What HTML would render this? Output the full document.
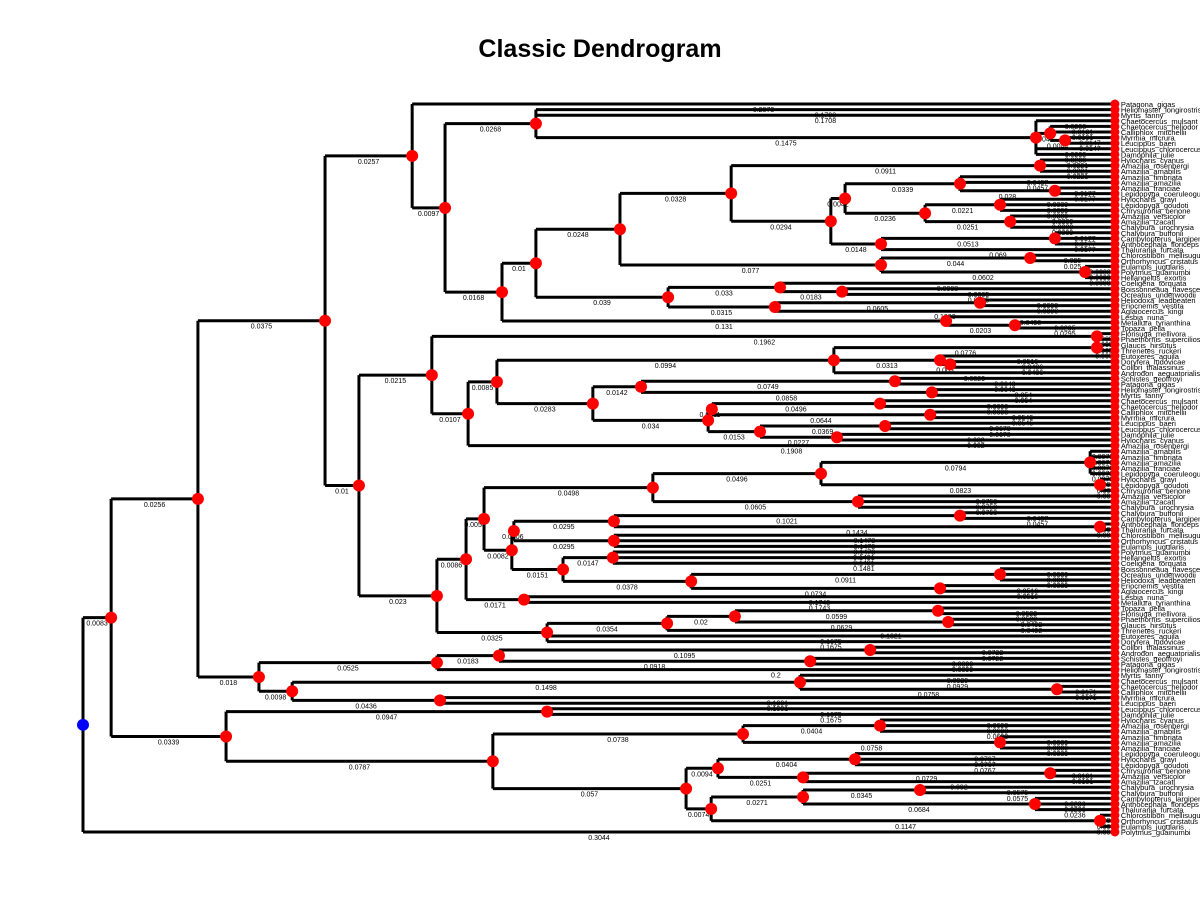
<!DOCTYPE html>
<html><head><meta charset="utf-8"><style>
html,body{margin:0;padding:0;background:#fff;}
svg{display:block;font-family:"Liberation Sans",sans-serif;}
</style></head><body>
<svg id="chart" width="1200" height="900" viewBox="0 0 1200 900">
<text x="600" y="57" text-anchor="middle" font-size="25" font-weight="bold">Classic Dendrogram</text>
<g id="plotArea"></g>
</svg>
<script>
const leafNames = ["Patagona_gigas","Heliomaster_longirostris","Myrtis_fanny","Chaetocercus_mulsant","Chaetocercus_heliodor","Calliphlox_mitchellii","Myrmia_micrura","Leucippus_baeri","Leucippus_chlorocercus","Damophila_julie","Hylocharis_cyanus","Amazilia_rosenbergi","Amazilia_amabilis","Amazilia_fimbriata","Amazilia_amazilia","Amazilia_franciae","Lepidopyga_coeruleogularis","Hylocharis_grayi","Lepidopyga_goudoti","Chrysuronia_oenone","Amazilia_versicolor","Amazilia_tzacatl","Chalybura_urochrysia","Chalybura_buffonii","Campylopterus_largipennis","Anthocephala_floriceps","Thalurania_furcata","Chlorostilbon_mellisugus","Orthorhyncus_cristatus","Eulampis_jugularis","Polytmus_guainumbi","Heliangelus_exortis","Coeligena_torquata","Boissonneaua_flavescens","Ocreatus_underwoodii","Heliodoxa_leadbeateri","Eriocnemis_vestita","Aglaiocercus_kingi","Lesbia_nuna","Metallura_tyrianthina","Topaza_pella","Florisuga_mellivora","Phaethornis_superciliosus","Glaucis_hirsutus","Threnetes_ruckeri","Eutoxeres_aquila","Doryfera_ludovicae","Colibri_thalassinus","Androdon_aequatorialis","Schistes_geoffroyi"];
const L = "leaf";
function N(depth, ...children){ return {depth: depth, children: children}; }
const leafDepth = 0.3044;

const subH = N(.1336, L, L, N(.2811, L, N(.2853, L, L, N(.2897, L, L)), L, L));
const subW = N(.2248, N(.2587, L, L, N(.2867, L, L)), N(.2484, N(.2705, L, L, L), N(.2735, L, L, L)));
const subU = N(.2206, subW, N(.2354, N(.2867, L, L, L), L));
const subT = N(.1912, N(.2823, L, L, L), subU);
const subR = N(.1584, subT, N(.2354, N(.2794, L, L), N(.2956, L, L, L)));
const subP = N(.1726, N(.2056, L, N(.2239, L, L)), N(.2041, N(.2646, L, L), L));
const subM = N(.1336, subR, subP);
const subK = N(.1236, subM, N(.2546, L, N(.2749, L, L)));
const subF = N(.0971, L, N(.1068, subH, subK));

const subAC = N(.2215, N(.2991, L, L), N(.2528, L, N(.2558, L, L)), L);
const subAE = N(.1646, N(.2395, L, L), N(.2504, L, L));
const subAF = N(.1844, N(.1855, N(.2351, L, L), N(.2499, L, L)), N(.1997, N(.2366, L, L), N(.2224, L, L)));
const subAB = N(.1221, subAC, N(.1504, subAE, subAF));
const subY = N(.1029, N(.2991, L, L), N(.1136, subAB, L));

const subAK = N(.1681, N(.2177, N(.2971, L, L, L, L, L), N(.3000, L, L, L)), N(.2286, L, L, L));
const subAN = N(.1271, N(.1566, N(.2587, L, L), N(.3000, L, L)), N(.1566, L, L, L));
const subAO = N(.1416, N(.1563, L, L, L), N(.1794, N(.2705, L, L, L), N(.2528, L, L)));
const subAG = N(.1130, N(.1183, subAK, N(.1265, subAN, subAO)), N(.1301, L, L));
const subAH = N(.1369, N(.1723, N(.1923, N(.2522, L, L), N(.2552, L, L)), L), L, L);
const subZ = N(.1044, subAG, subAH);
const subG = N(.0814, subY, subZ);
const subD = N(.0714, subF, subG);

const subE = N(.0519,
  N(.1044, N(.1227, N(.2322, L, L), N(.2145, L, L)), L),
  N(.0617, N(.2115, L, L, N(.2873, L, L)), N(.1053, L, L)));
const subB = N(.0339, subD, subE);

const subC = N(.0422,
  N(.1369, L, L),
  N(.1209,
    N(.1947, N(.2351, L, L, L), N(.2705, L, L, L)),
    N(.1779,
      N(.1873, N(.2277, L, L, L), N(.2124, N(.2853, L, L), L)),
      N(.1853, N(.2124, N(.2469, L, L), N(.2808, L, L, L)), N(.3000, L, L, L)))));

const tree = N(0, N(.0083, subB, subC), L);

const NS = "http://www.w3.org/2000/svg";
const plotG = document.getElementById('plotArea');
const X0 = 83, SCALE = 3390, YTOP = 104, YBOT = 832;
function xs(d){ return X0 + d * SCALE; }
function countLeaves(n){ if(n === L) return 1; let c = 0; for (const ch of n.children) c += countLeaves(ch); return c; }
const nLeaves = countLeaves(tree);
const stepY = (YBOT - YTOP) / (nLeaves - 1);
let leafIdx = 0;
const gLines = document.createElementNS(NS,'g'); plotG.appendChild(gLines);
const gLabels = document.createElementNS(NS,'g'); plotG.appendChild(gLabels);
const gDots = document.createElementNS(NS,'g'); plotG.appendChild(gDots);
function addLine(x1,y1,x2,y2,nm){
  const l = document.createElementNS(NS,'line');
  l.setAttribute('x1',x1); l.setAttribute('y1',y1); l.setAttribute('x2',x2); l.setAttribute('y2',y2);
  l.setAttribute('stroke','#000'); l.setAttribute('stroke-width','3');
  
  
  gLines.appendChild(l);
}
function addDot(x,y,r,fill,nm){
  const c = document.createElementNS(NS,'circle');
  c.setAttribute('cx',x); c.setAttribute('cy',y); c.setAttribute('r',r); c.setAttribute('fill',fill);
  
  
  gDots.appendChild(c);
}
function addText(x,y,s,size,anchor,nm){
  const t = document.createElementNS(NS,'text');
  t.setAttribute('x',x); t.setAttribute('y',y); t.setAttribute('font-size',size);
  t.setAttribute('text-anchor',anchor); t.textContent = s;
  
  
  gLabels.appendChild(t);
}
function layout(n){
  if(n === L){
    const y = YTOP + leafIdx * stepY;
    const nm = leafNames[leafIdx % leafNames.length];
    leafIdx++;
    return {y: y, depth: leafDepth, leaf: true, name: nm};
  }
  const kids = n.children.map(layout);
  const y = (kids[0].y + kids[kids.length-1].y) / 2;
  const x = xs(n.depth);
  addLine(x, kids[0].y, x, kids[kids.length-1].y, 'node-vertical-link');
  for (const k of kids){
    const kx = xs(k.depth);
    addLine(x, k.y, kx, k.y, 'branch-line');
    addText((x+kx)/2, k.y+8, String(+(k.depth - n.depth).toFixed(8)), 7, 'middle', 'branch-length-label');
    if(k.leaf){
      addDot(kx, k.y, 4.5, '#f00', 'leaf-node');
      addText(kx+6, k.y+3, k.name, 7.5, 'start', 'leaf-label');
    }
  }
  if(n.depth === 0) addDot(x, y, 6, '#00f', 'root-node');
  else addDot(x, y, 6, '#f00', 'internal-node');
  return {y: y, depth: n.depth};
}
layout(tree);
</script>
</body></html>
